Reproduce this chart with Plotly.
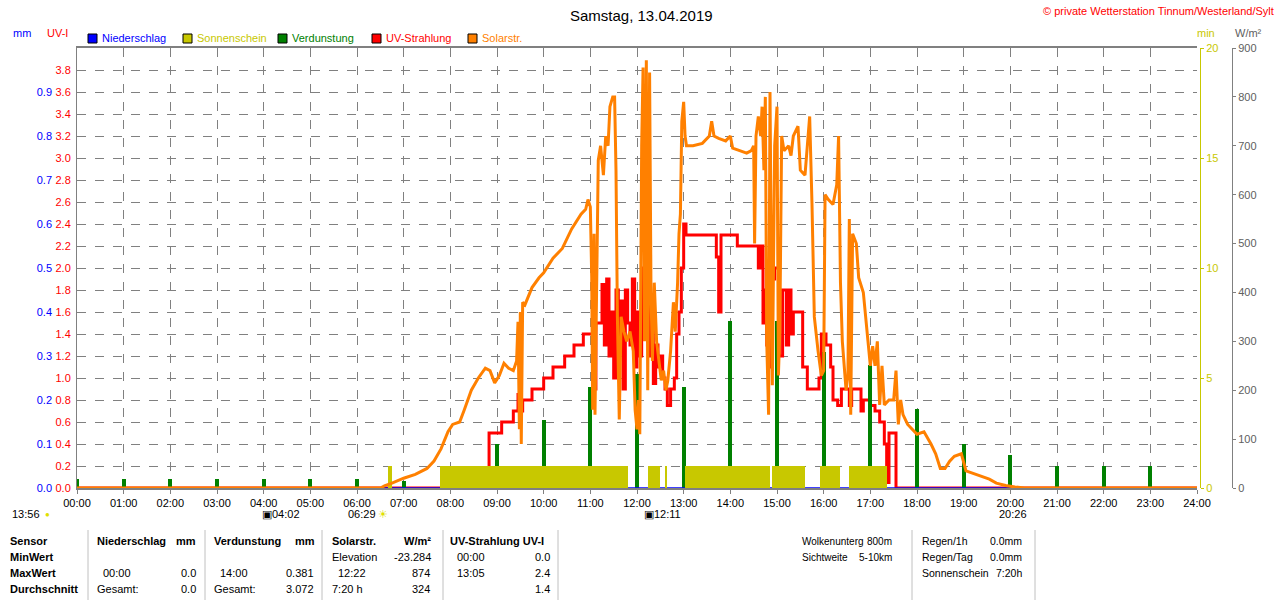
import plotly.graph_objects as go

hours = list(range(25))
hour_labels = [f"{h:02d}:00" for h in hours]

solar_t = [0,6.45,6.5,6.6,6.75,7.0,7.25,7.5,7.65,7.8,7.95,8.05,8.2,8.3,8.45,8.6,8.75,8.85,8.95,9.05,9.15,9.25,9.35,9.42,9.45,9.48,9.5,9.52,9.55,9.6,9.75,9.9,10.0,10.2,10.4,10.6,10.8,10.9,10.95,11.0,11.03,11.05,11.08,11.1,11.13,11.17,11.22,11.28,11.33,11.38,11.42,11.48,11.52,11.55,11.58,11.62,11.66,11.72,11.78,11.85,11.92,11.96,12.0,12.03,12.06,12.1,12.13,12.16,12.2,12.23,12.27,12.3,12.33,12.37,12.42,12.47,12.52,12.57,12.62,12.66,12.72,12.78,12.82,12.87,12.9,12.93,12.96,13.0,13.03,13.06,13.2,13.4,13.55,13.6,13.65,13.75,13.9,14.0,14.05,14.2,14.35,14.45,14.5,14.52,14.55,14.6,14.65,14.68,14.72,14.75,14.78,14.82,14.85,14.9,14.95,15.0,15.03,15.06,15.1,15.15,15.25,15.3,15.35,15.45,15.5,15.6,15.65,15.7,15.75,15.8,15.88,15.95,16.0,16.03,16.1,16.2,16.28,16.32,16.36,16.4,16.48,16.52,16.55,16.58,16.62,16.7,16.75,16.85,16.95,17.0,17.05,17.1,17.15,17.2,17.25,17.3,17.4,17.5,17.55,17.6,17.65,17.7,17.8,17.9,18.0,18.15,18.3,18.4,18.5,18.6,18.7,18.8,18.95,19.05,19.2,19.4,19.55,19.7,19.9,20.1,20.3,24]
solar_w = [0,0,0,5,10,20,28,40,55,80,115,130,135,160,200,225,245,240,215,230,255,245,240,260,340,120,360,90,380,375,410,430,440,470,490,530,560,570,590,575,430,160,520,150,400,670,700,640,720,700,780,800,800,650,350,140,350,320,300,320,280,160,120,180,110,700,860,300,875,200,850,400,260,420,300,260,220,240,200,220,280,380,320,420,520,560,750,790,720,700,700,705,720,750,720,715,710,720,695,690,685,690,700,500,720,760,720,780,650,800,300,150,810,210,700,780,230,320,720,690,700,680,720,740,650,640,700,760,580,350,280,230,240,600,590,580,620,720,420,300,200,230,550,150,520,500,430,400,300,250,290,250,300,170,250,170,180,180,240,130,180,150,130,120,110,115,90,70,40,40,55,65,70,35,30,22,18,10,5,2,0,0]

uv_t = [0,8.82,8.83,9.1,9.35,9.45,9.5,9.55,9.75,10.0,10.2,10.45,10.65,10.85,11.05,11.08,11.12,11.25,11.3,11.35,11.4,11.45,11.5,11.55,11.6,11.65,11.7,11.75,11.8,11.85,11.9,11.95,12.0,12.05,12.1,12.15,12.2,12.25,12.3,12.35,12.4,12.45,12.5,12.55,12.6,12.65,12.72,12.8,12.85,12.9,12.95,13.0,13.05,13.7,13.75,13.8,14.15,14.6,14.65,14.7,14.75,14.78,14.82,14.86,14.9,14.95,15.05,15.12,15.2,15.25,15.3,15.35,15.55,15.65,15.9,15.95,16.05,16.15,16.2,16.3,16.38,16.5,16.55,16.6,16.75,16.8,16.85,17.0,17.1,17.2,17.3,17.35,17.4,17.55,24]
uv_v = [0,0,0.5,0.6,0.7,0.85,0.7,0.8,0.9,1.0,1.1,1.2,1.3,1.4,1.5,0.9,1.5,1.85,1.3,1.9,1.2,1.6,1.0,1.8,1.3,1.7,0.9,1.8,1.5,1.3,1.9,1.1,1.6,1.2,2.0,1.4,2.1,1.2,1.7,0.95,1.3,1.1,1.2,1.0,0.9,0.75,0.9,1.0,1.4,1.6,2.0,2.4,2.3,2.1,1.6,2.3,2.2,2.0,2.2,1.5,1.8,1.3,1.9,1.1,1.9,2.0,1.2,1.8,1.3,1.8,1.4,1.6,1.1,0.9,1.0,1.4,1.3,1.1,0.8,0.75,0.9,0.9,0.75,0.9,0.9,0.7,0.8,0.75,0.7,0.6,0.4,0.05,0.5,0.0,0.0]

evap_t = list(range(24))
evap_mm = [0.02,0.02,0.02,0.02,0.02,0.02,0.02,0.015,0.02,0.1,0.155,0.23,0.26,0.23,0.38,0.38,0.31,0.28,0.18,0.1,0.075,0.05,0.05,0.05]

sun_start = [6.66,7.78,12.23,12.6,13.03,14.89,15.92,16.54]
sun_end = [6.75,11.81,12.49,12.64,14.85,15.6,16.35,17.36]
sun_min = [1,1,1,1,1,1,1,1]

FONT = "Liberation Sans"
fig = go.Figure()
fig.add_trace(go.Bar(x=[(a+b)/2 for a,b in zip(sun_start,sun_end)], y=sun_min,
                     width=[b-a for a,b in zip(sun_start,sun_end)],
                     marker=dict(color="#c8c800", line_width=0), yaxis="y3", name="Sonnenschein"))
fig.add_trace(go.Bar(x=evap_t, y=evap_mm, width=0.08, marker=dict(color="#008000", line_width=0),
                     yaxis="y2", name="Verdunstung"))
fig.add_trace(go.Scatter(x=solar_t, y=solar_w, mode="lines", line=dict(color="#ff8000", width=3),
                         yaxis="y4", name="Solarstr."))
fig.add_trace(go.Scatter(x=uv_t, y=uv_v, mode="lines", line=dict(color="#ff0000", width=3, shape="hv"),
                         yaxis="y", name="UV-Strahlung"))
fig.add_trace(go.Scatter(x=[0,24], y=[0,0], mode="lines", line=dict(color="#0000ff", width=1.5),
                         yaxis="y2", name="Niederschlag"))

dom_x = [77/1280, 1197/1280]
dom_y = [112/600, 552/600]
tf = dict(family=FONT, size=11)
fig.update_layout(
    width=1280, height=600, margin=dict(l=0, r=0, t=0, b=0, autoexpand=False),
    plot_bgcolor="white", paper_bgcolor="white", showlegend=False, bargap=0,
    font=dict(family=FONT, size=11),
    xaxis=dict(domain=dom_x, range=[0,24], tickvals=hours, ticktext=hour_labels, automargin=False,
               showgrid=True, gridcolor="#808080", griddash="dash", gridwidth=1,
               ticks="outside", ticklen=4, tickcolor="#808080", tickfont=dict(color="black", **tf),
               showline=True, linecolor="#808080", linewidth=2, mirror=True, zeroline=False),
    yaxis=dict(domain=dom_y, range=[0,4], tickvals=[round(0.2*i,1) for i in range(20)], automargin=False,
               ticktext=[f"{0.2*i:.1f}" for i in range(20)], tickfont=dict(color="#ff0000", **tf),
               showgrid=True, gridcolor="#808080", griddash="dash", zeroline=False,
               showline=True, linecolor="#808080", ticks="", ticklabelstandoff=3),
    yaxis2=dict(range=[0,1], overlaying="y", anchor="free", position=52/1280, side="left", automargin=False,
                tickvals=[round(0.1*i,1) for i in range(10)], ticktext=[f"{0.1*i:.1f}" for i in range(10)],
                tickfont=dict(color="#0000ff", **tf), showgrid=False, zeroline=False, showline=False,
                ticks="", ticklabelstandoff=0),
    yaxis3=dict(range=[0,20], overlaying="y", anchor="free", position=1200/1280, side="right", automargin=False,
                tickvals=[0,5,10,15,20], tickfont=dict(color="#c8c800", **tf), showgrid=False,
                zeroline=False, showline=True, linecolor="#c8c800", ticks="outside", ticklen=3, tickcolor="#c8c800"),
    yaxis4=dict(range=[0,900], overlaying="y", anchor="free", position=1232/1280, side="right", automargin=False,
                tickvals=list(range(0,1000,100)), tickfont=dict(color="#606060", **tf), showgrid=False,
                zeroline=False, showline=True, linecolor="#808080", ticks="outside", ticklen=3, tickcolor="#808080"),
)

def txt(x, y, s, color="black", size=11, anchor="left", bold=False):
    if bold:
        s = f"<b>{s}</b>"
    fig.add_annotation(x=x/1280, y=1-y/600, xref="paper", yref="paper", text=s, showarrow=False,
                       xanchor=anchor, yanchor="middle", font=dict(family=FONT, size=size, color=color))

txt(641, 15, "Samstag, 13.04.2019", size=15, anchor="center")
txt(1276, 11, "© private Wetterstation Tinnum/Westerland/Sylt", color="#ff0000", size=11, anchor="right")
txt(22, 33, "mm", color="#0000ff", anchor="center")
txt(57, 33, "UV-I", color="#ff0000", anchor="center")
txt(1206, 33, "min", color="#c8c800", anchor="center")
txt(1248, 33, "W/m²", color="#606060", anchor="center")

legend = [(88,"Niederschlag","#0000ff"),(183,"Sonnenschein","#c8c800"),(278,"Verdunstung","#008000"),
          (372,"UV-Strahlung","#ff0000"),(468,"Solarstr.","#ff8000")]
for x, name, c in legend:
    fig.add_shape(type="rect", xref="paper", yref="paper", x0=x/1280, x1=(x+9)/1280,
                  y0=1-43/600, y1=1-34/600, fillcolor=c, line=dict(color="black", width=1))
    txt(x+12, 38, name, color=c)

txt(10, 514, "13:56")
txt(43, 514, "●", color="#e0e000", size=8)
txt(260, 514, "▣04:02")
txt(346, 514, "06:29")
txt(376, 514, "☀", color="#e0e000")
txt(642, 514, "▣12:11")
txt(997, 514, "20:26")

rows = [541, 557, 573, 589]
for i, s in enumerate(["Sensor","MinWert","MaxWert","Durchschnitt"]):
    txt(8, rows[i], s, bold=True)
for x, s in [(95,"Niederschlag"),(212,"Verdunstung"),(330,"Solarstr."),(448,"UV-Strahlung UV-I")]:
    txt(x, rows[0], s, bold=True)
txt(198, rows[0], "mm", bold=True, anchor="right")
txt(317, rows[0], "mm", bold=True, anchor="right")
txt(433, rows[0], "W/m²", bold=True, anchor="right")
txt(330, rows[1], "Elevation"); txt(433, rows[1], "-23.284", anchor="right")
txt(455, rows[1], "00:00"); txt(552, rows[1], "0.0", anchor="right")
txt(101, rows[2], "00:00"); txt(198, rows[2], "0.0", anchor="right")
txt(218, rows[2], "14:00"); txt(316, rows[2], "0.381", anchor="right")
txt(336, rows[2], "12:22"); txt(432, rows[2], "874", anchor="right")
txt(455, rows[2], "13:05"); txt(552, rows[2], "2.4", anchor="right")
txt(95, rows[3], "Gesamt:"); txt(198, rows[3], "0.0", anchor="right")
txt(212, rows[3], "Gesamt:"); txt(316, rows[3], "3.072", anchor="right")
txt(330, rows[3], "7:20 h"); txt(432, rows[3], "324", anchor="right")
txt(552, rows[3], "1.4", anchor="right")
txt(800, rows[0], "Wolkenunterg", size=10); txt(894, rows[0], "800m", anchor="right", size=10)
txt(800, rows[1], "Sichtweite", size=10); txt(894, rows[1], "5-10km", anchor="right", size=10)
txt(920, rows[0], "Regen/1h", size=10.5); txt(1024, rows[0], "0.0mm", anchor="right", size=10.5)
txt(920, rows[1], "Regen/Tag", size=10.5); txt(1024, rows[1], "0.0mm", anchor="right", size=10.5)
txt(920, rows[2], "Sonnenschein", size=10.5); txt(1024, rows[2], "7:20h", anchor="right", size=10.5)
for x in [88, 205, 322, 443, 558, 912, 1035]:
    fig.add_shape(type="line", xref="paper", yref="paper", x0=x/1280, x1=x/1280,
                  y0=0, y1=1-530/600, line=dict(color="#c0c0c0", width=1))

fig.write_html("out.html", config={"displayModeBar": False},
               post_script="document.body.style.margin='0';document.body.style.overflow='hidden';")
